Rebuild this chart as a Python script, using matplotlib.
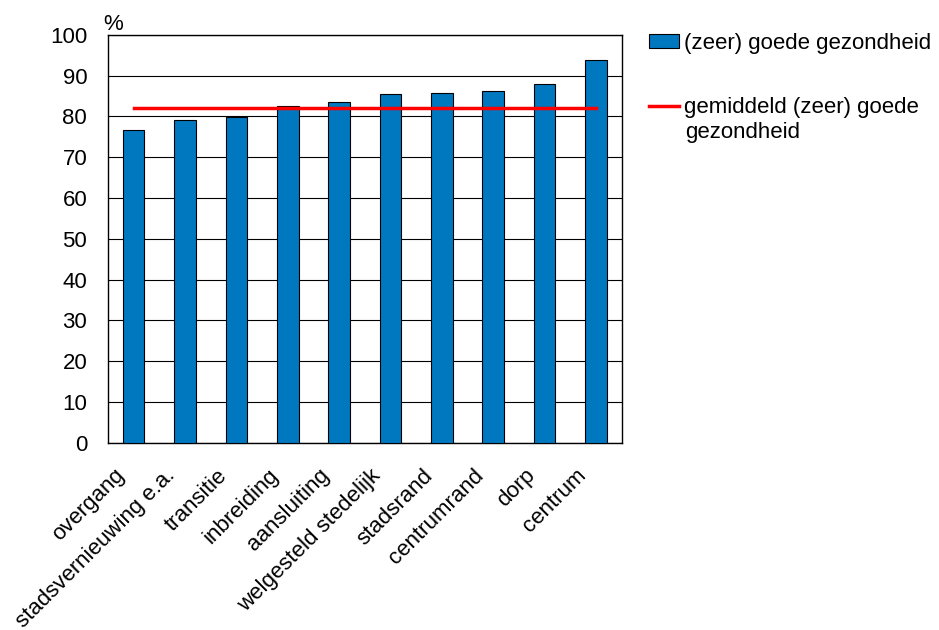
import numpy as np
import matplotlib.pyplot as plt
from matplotlib.transforms import ScaledTranslation

plt.rcParams['font.family'] = ['Liberation Sans', 'DejaVu Sans']

wijken = ['overgang', 'stadsvernieuwing e.a.', 'transitie', 'inbreiding', 'aansluiting',
          'welgesteld stedelijk', 'stadsrand', 'centrumrand', 'dorp', 'centrum']
goede_gezondheid = [76.7, 79.2, 79.8, 82.5, 83.6, 85.4, 85.7, 86.2, 87.9, 93.8]
gemiddeld = 82.1

fig = plt.figure(figsize=(9.39, 6.3), dpi=100)
ax = fig.add_axes([0.115, 0.297, 0.547, 0.6476])

x = np.arange(len(wijken))
staven = ax.bar(x, goede_gezondheid, width=0.42, color='#0078C0', edgecolor='black',
                linewidth=0.8, zorder=3)
lijn, = ax.plot([x[0], x[-1]], [gemiddeld, gemiddeld], color='#FF0000', lw=2.5, zorder=4)

ax.set_xlim(-0.5, len(wijken) - 0.5)
ax.set_ylim(0, 100)
ax.set_yticks(range(0, 101, 10))
ax.yaxis.grid(True, color='black', lw=0.8, zorder=0)
ax.tick_params(axis='both', length=0, labelsize=16)
ax.tick_params(axis='y', pad=15)
ax.tick_params(axis='x', pad=0)
ax.set_xticks(x)
ax.set_xticklabels(wijken, rotation=45, ha='right', va='top', rotation_mode='anchor')
verschuiving = ScaledTranslation(-0.20, -0.22, fig.dpi_scale_trans)
for lbl in ax.get_xticklabels():
    lbl.set_transform(lbl.get_transform() + verschuiving)
for sp in ax.spines.values():
    sp.set_color('black')
    sp.set_linewidth(1)

fig.text(0.11, 0.952, '%', fontsize=16, ha='left', va='baseline')

# legenda: rode lijn op hoogte van de eerste regel, tweede regel los eronder
ax.legend([staven, lijn], ['(zeer) goede gezondheid', 'gemiddeld (zeer) goede'],
          loc='upper left', bbox_to_anchor=(1.054, 1.005), frameon=False, fontsize=16,
          handlelength=1.35, handleheight=0.65, handletextpad=0.22, labelspacing=1.95,
          borderaxespad=0, borderpad=0)
fig.text(0.7295, 0.790, 'gezondheid', fontsize=16, ha='left', va='center')

fig.savefig('out.png', dpi=100)
